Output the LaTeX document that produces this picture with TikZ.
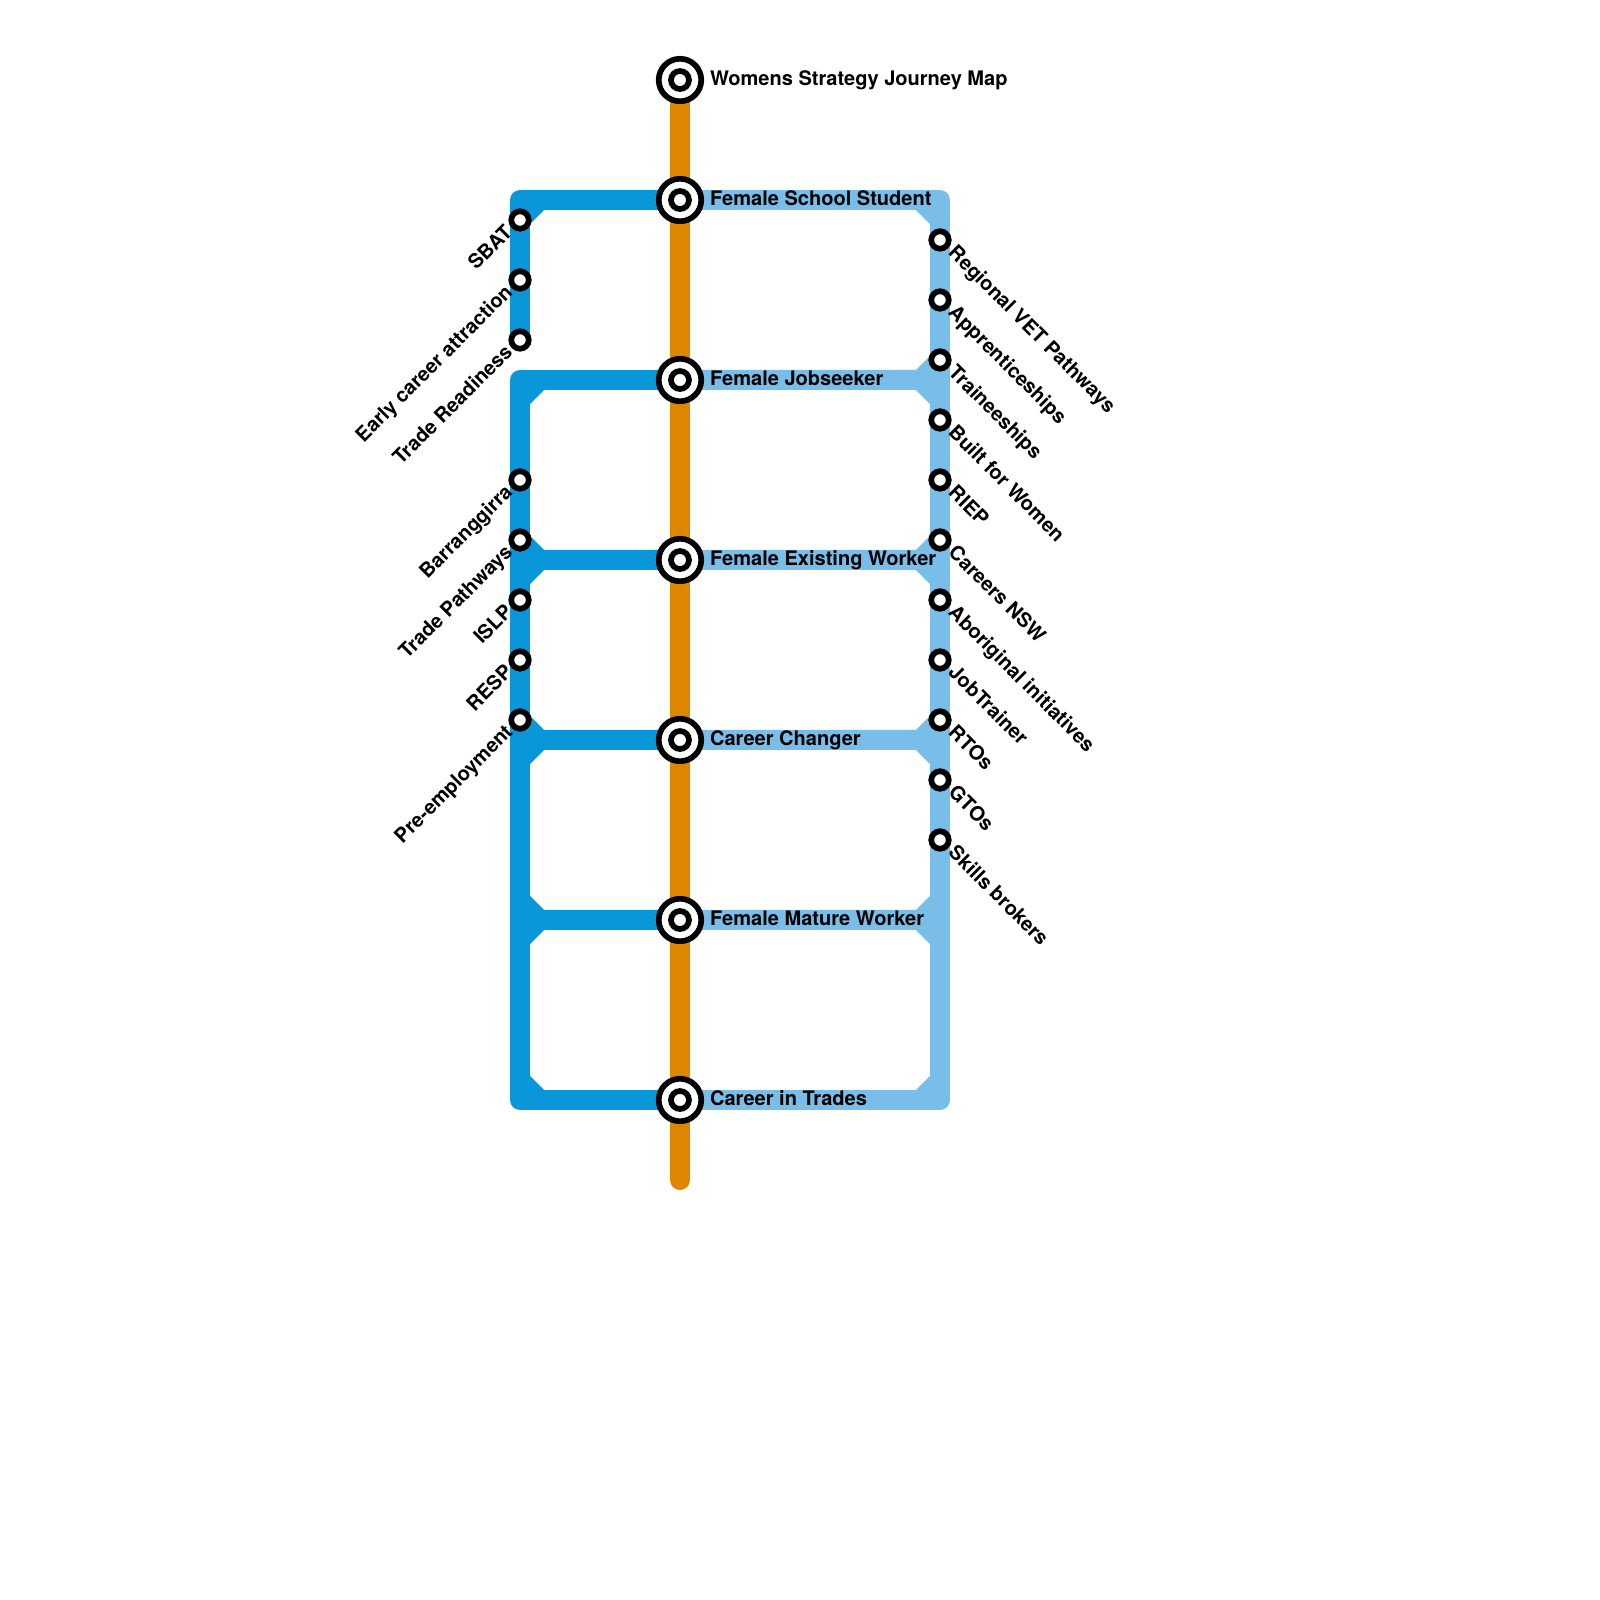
\documentclass[tikz,border=0pt]{standalone}
\usepackage{fontspec}
\setmainfont{TeX Gyre Heros}
\definecolor{trunkline}{HTML}{DF8600}
\definecolor{leftline}{HTML}{0A97D9}
\definecolor{rightline}{HTML}{79BDE9}
\tikzset{
  metroline/.style={line width=2mm, line join=round},
  hub/.style={circle, draw=black, fill=white, line width=0.57mm, minimum size=4.25mm, inner sep=0pt},
  hubcore/.style={circle, draw=black, fill=white, line width=0.57mm, minimum size=1.8mm, inner sep=0pt},
  stop/.style={circle, draw=black, fill=white, line width=0.57mm, minimum size=1.75mm, inner sep=0pt},
  stoplabel/.style={font=\fontsize{5.7}{6.8}\selectfont\bfseries, inner sep=0pt}
}
\begin{document}
\begin{tikzpicture}[scale=0.2]
\useasboundingbox (0,0) rectangle (80,80);
\coordinate (start) at (34,76);
\coordinate (school) at (34,70);
\coordinate (jobseeker) at (34,61);
\coordinate (existing) at (34,52);
\coordinate (changer) at (34,43);
\coordinate (mature) at (34,34);
\coordinate (trades) at (34,25);
\coordinate (finish) at (34,21);
\coordinate (lefttop) at (26,70);
\coordinate (lefthigh) at (26,61);
\coordinate (leftlow) at (26,25);
\coordinate (righttop) at (47,70);
\coordinate (rightlow) at (47,25);
\coordinate (readiness) at (26,63);
% blue lines
\draw[metroline, leftline] (school) -- (lefttop) -- (readiness);
\draw[metroline, leftline] (jobseeker) -- (lefthigh) -- (leftlow) -- (trades);
\draw[metroline, rightline] (school) -- (righttop) -- (rightlow) -- (trades);
\foreach \y in {52,43,34} {
  \draw[metroline, leftline] (34,\y) -- (27,\y) -- (26,\y+1);
  \draw[metroline, leftline] (27,\y) -- (26,\y-1);
  \draw[metroline, rightline] (34,\y) -- (46,\y) -- (47,\y+1);
  \draw[metroline, rightline] (46,\y) -- (47,\y-1);
}
\draw[metroline, leftline] (27,70) -- (26,69);
\draw[metroline, leftline] (27,61) -- (26,60);
\draw[metroline, leftline] (27,25) -- (26,26);
\draw[metroline, rightline] (34,61) -- (46,61) -- (47,62);
\draw[metroline, rightline] (46,61) -- (47,60);
\draw[metroline, rightline] (46,70) -- (47,69);
\draw[metroline, rightline] (46,25) -- (47,26);
% trunk
\draw[metroline, trunkline, line cap=round] (start) -- (finish);
% hubs
\foreach \name/\txt in {start/Womens Strategy Journey Map, school/Female School Student,
    jobseeker/Female Jobseeker, existing/Female Existing Worker, changer/Career Changer,
    mature/Female Mature Worker, trades/Career in Trades} {
  \node[hub] (hub\name) at (\name) {};
  \node[hubcore] (core\name) at (\name) {};
  \node[stoplabel, anchor=base west] (text\name) at ([xshift=1.47cm,yshift=-0.28cm]\name) {\txt};
}
% left stops
\foreach \name/\y/\txt in {sbat/69/SBAT, attraction/66/Early career attraction, ready/63/Trade Readiness,
    barranggirra/56/Barranggirra, pathways/53/Trade Pathways, islp/50/ISLP, resp/47/RESP, preemp/44/Pre-employment} {
  \node[stop] (\name) at (26,\y) {};
  \node[stoplabel, anchor=base east, rotate=45] (text\name) at ([xshift=-0.3cm,yshift=-0.65cm]\name) {\txt};
}
% right stops
\foreach \name/\y/\txt in {vet/68/Regional VET Pathways, apprentice/65/Apprenticeships, trainee/62/Traineeships,
    women/59/Built for Women, riep/56/RIEP, careers/53/Careers NSW, aboriginal/50/Aboriginal initiatives,
    jobtrainer/47/JobTrainer, rtos/44/RTOs, gtos/41/GTOs, brokers/38/Skills brokers} {
  \node[stop] (\name) at (47,\y) {};
  \node[stoplabel, anchor=base west, rotate=-45] (text\name) at ([xshift=0.35cm,yshift=-0.67cm]\name) {\txt};
}
\end{tikzpicture}
\end{document}
